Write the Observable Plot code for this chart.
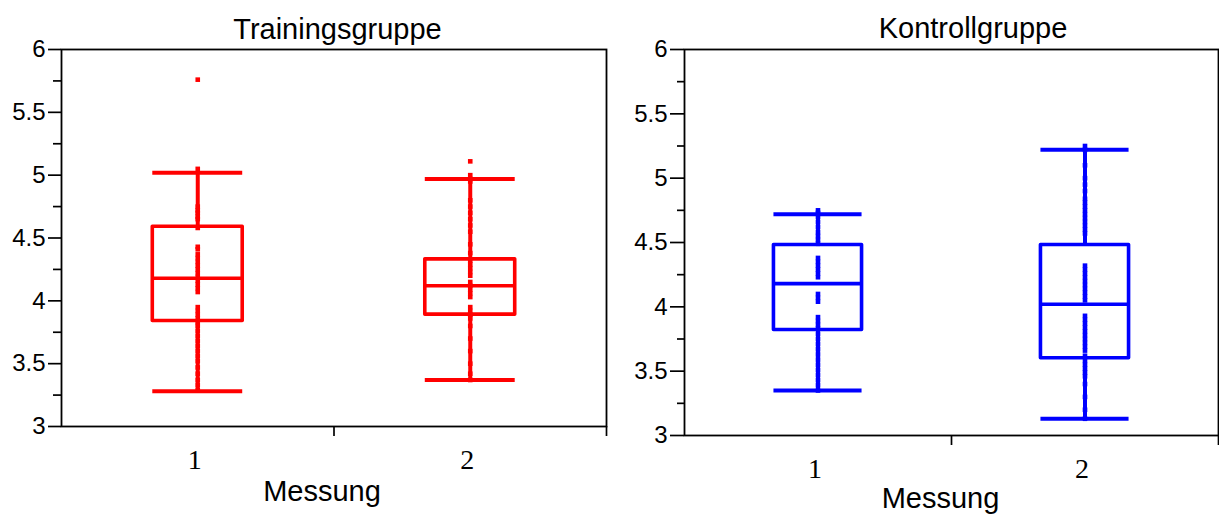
<!DOCTYPE html>
<html>
<head>
<meta charset="utf-8">
<script src="https://cdn.jsdelivr.net/npm/d3@7"></script>
<script src="https://cdn.jsdelivr.net/npm/@observablehq/plot@0.6"></script>
<style>
  body { margin: 0; background: #fff; }
  #wrap { display: flex; width: 1219px; height: 516px; overflow: hidden; }
  #wrap svg { display: block; background: #fff; }
</style>
</head>
<body>
<div id="wrap"></div>
<script>
// ---- shared categories / ticks ----
const measures = [1, 2];
const measureLabels = ["1", "2"];
const yTicks = [3, 3.5, 4, 4.5, 5, 5.5, 6];
const yMinorTicks = [3.25, 3.75, 4.25, 4.75, 5.25, 5.75];
const xAxisLabel = "Messung";

// ---- Trainingsgruppe ----
const trainingTitle = "Trainingsgruppe";
const trainingLow = [3.28, 3.37];
const trainingQ1 = [3.84, 3.89];
const trainingMedian = [4.18, 4.12];
const trainingQ3 = [4.59, 4.33];
const trainingHigh = [5.02, 4.97];
const trainingPoints1 = [5.76, 5.05, 4.75, 4.72, 4.70, 4.67, 4.65, 4.58, 4.43, 4.41,
  4.37, 4.34, 4.31, 4.28, 4.25, 4.22, 4.19, 4.16, 4.13, 4.10, 4.07,
  3.95, 3.92, 3.89, 3.86, 3.83, 3.80, 3.76, 3.72, 3.68, 3.64, 3.60, 3.56, 3.52, 3.47, 3.42, 3.37, 3.33, 3.29];
const trainingPoints2 = [5.11, 5.00, 4.97, 4.95, 4.80, 4.75, 4.70, 4.65, 4.60, 4.55, 4.45, 4.38,
  4.32, 4.29, 4.26, 4.23, 4.20, 4.15, 4.12, 4.09, 4.06, 4.03, 3.95, 3.92, 3.89, 3.86,
  3.80, 3.70, 3.60, 3.50, 3.42, 3.37];

// ---- Kontrollgruppe ----
const controlTitle = "Kontrollgruppe";
const controlLow = [3.35, 3.13];
const controlQ1 = [3.82, 3.60];
const controlMedian = [4.18, 4.02];
const controlQ3 = [4.48, 4.48];
const controlHigh = [4.72, 5.22];
const controlPoints1 = [4.75, 4.73, 4.70, 4.66, 4.62, 4.58, 4.55, 4.52, 4.49,
  4.38, 4.35, 4.32, 4.29, 4.26, 4.23, 4.10, 4.07, 4.04, 3.92, 3.89, 3.86, 3.83,
  3.79, 3.75, 3.71, 3.67, 3.63, 3.59, 3.55, 3.51, 3.47, 3.43, 3.39, 3.35];
const controlPoints2 = [5.25, 5.22, 5.10, 5.00, 4.95, 4.90, 4.84, 4.81, 4.78, 4.75, 4.72, 4.69, 4.66, 4.63, 4.60, 4.57,
  4.32, 4.29, 4.26, 4.23, 4.20, 4.17, 4.14, 4.11, 4.08, 4.05,
  3.93, 3.90, 3.87, 3.84, 3.81, 3.78, 3.75, 3.72, 3.69, 3.66, 3.62,
  3.58, 3.55, 3.52, 3.49, 3.46, 3.40, 3.30, 3.20, 3.13];

const SANS = "Liberation Sans, Arial, sans-serif";
const SERIF = "Liberation Serif, Times New Roman, serif";
const HALF = 0.165;

function panel(cfg) {
  const rows = measures.map((m, i) => ({
    m, lo: cfg.low[i], q1: cfg.q1[i], med: cfg.median[i], q3: cfg.q3[i], hi: cfg.high[i]
  }));
  const pts = [];
  cfg.points.forEach((arr, i) => arr.forEach(v => pts.push({m: measures[i], v})));
  const c = cfg.color;
  return Plot.plot({
    width: cfg.width, height: 516,
    marginLeft: cfg.ml, marginRight: cfg.mr, marginTop: cfg.mt, marginBottom: cfg.mb,
    style: {fontFamily: SANS, color: "black", background: "white", overflow: "visible"},
    x: {domain: [0.5, 2.5], axis: null},
    y: {domain: [3, 6], axis: null},
    marks: [
      Plot.frame({stroke: "black", strokeWidth: 1.8}),
      Plot.axisY({ticks: yTicks, tickSize: cfg.tickMajor, tickPadding: 3, fontSize: 24, fontFamily: SANS,
        tickFormat: d => String(d), strokeWidth: 1.7, label: null}),
      Plot.axisY({ticks: yMinorTicks, tickSize: cfg.tickMinor, tickFormat: () => "", strokeWidth: 1.7, label: null}),
      Plot.axisX({ticks: [1.5, 2.5], tickSize: 10, tickFormat: () => "", strokeWidth: 1.7, label: null}),
      // whiskers
      Plot.ruleX(rows, {x: "m", y1: "lo", y2: "q1", stroke: c, strokeWidth: 4}),
      Plot.ruleX(rows, {x: "m", y1: "q3", y2: "hi", stroke: c, strokeWidth: 4}),
      Plot.ruleY(rows, {y: "lo", x1: d => d.m - HALF, x2: d => d.m + HALF, stroke: c, strokeWidth: 4}),
      Plot.ruleY(rows, {y: "hi", x1: d => d.m - HALF, x2: d => d.m + HALF, stroke: c, strokeWidth: 4}),
      // box
      Plot.rect(rows, {x1: d => d.m - HALF, x2: d => d.m + HALF, y1: "q1", y2: "q3",
        fill: "none", stroke: c, strokeWidth: 3.6, strokeLinejoin: "round"}),
      Plot.ruleY(rows, {y: "med", x1: d => d.m - HALF, x2: d => d.m + HALF, stroke: c, strokeWidth: 3.6}),
      // raw points
      Plot.dot(pts, {x: "m", y: "v", symbol: "square", r: 2.6, fill: c, stroke: null}),
      // category labels
      Plot.text(measures, {x: d => d, text: (d, i) => measureLabels[i], frameAnchor: "bottom",
        dy: 34, dx: -3, fontSize: 28, fontFamily: SERIF, lineAnchor: "middle", fill: "black"}),
      // x label
      Plot.text([xAxisLabel], {text: d => d, frameAnchor: "bottom", dy: cfg.labelDy, dx: cfg.labelDx,
        fontSize: 29, fontFamily: SANS, lineAnchor: "middle", fill: "black"}),
      // title
      Plot.text([cfg.title], {text: d => d, frameAnchor: "top", dy: cfg.titleDy, dx: cfg.titleDx,
        fontSize: 29, fontFamily: SANS, lineAnchor: "middle", fill: "black"})
    ]
  });
}

const wrap = document.getElementById("wrap");
wrap.appendChild(panel({
  title: trainingTitle, color: "#ff0000", width: 610,
  ml: 61, mr: 4, mt: 49, mb: 90, tickMajor: 13, tickMinor: 8,
  low: trainingLow, q1: trainingQ1, median: trainingMedian, q3: trainingQ3, high: trainingHigh,
  points: [trainingPoints1, trainingPoints2],
  labelDy: 65, labelDx: -12, titleDy: -20, titleDx: 3.5
}));
wrap.appendChild(panel({
  title: controlTitle, color: "#0000ff", width: 609,
  ml: 74, mr: 1, mt: 49, mb: 81, tickMajor: 14, tickMinor: 7,
  low: controlLow, q1: controlQ1, median: controlMedian, q3: controlQ3, high: controlHigh,
  points: [controlPoints1, controlPoints2],
  labelDy: 63, labelDx: -11, titleDy: -21, titleDx: 21.5
}));
</script>
</body>
</html>
